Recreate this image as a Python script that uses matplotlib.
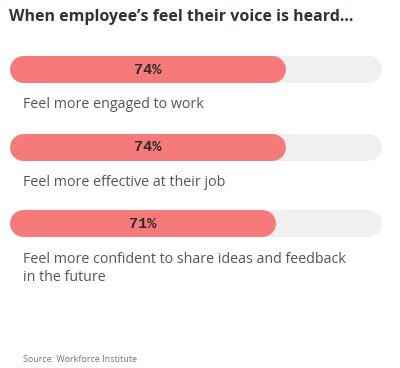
import matplotlib
matplotlib.use("Agg")
import matplotlib.pyplot as plt
from matplotlib import font_manager

# data
title = "When employee\u2019s feel their voice is heard..."
labels = ["Feel more engaged to work",
          "Feel more effective at their job",
          "Feel more confident to share ideas and feedback\nin the future"]
values = [74, 74, 71]
source = "Source: Workforce Institute"

W, H = 400, 368
bar_y = [69, 146.5, 223]        # bar centre, pixels from top
label_y = [102, 180, 257]       # first line centre
bar_px = 27
x0_px, x100_px = 22.5, 360.0

red = "#f77a7b"
track = "#f1f0f0"

mono = [f.name for f in font_manager.fontManager.ttflist if "Mono" in f.name]
mono_family = ["Liberation Mono", "DejaVu Sans Mono"] if "Liberation Mono" in mono else ["DejaVu Sans Mono"]

fig = plt.figure(figsize=(W / 100, H / 100), dpi=100)
ax = fig.add_axes([0, 0, 1, 1])
scale = 100 / (x100_px - x0_px)
ax.set_xlim(-x0_px * scale, 100 + (W - x100_px) * scale)
ax.set_ylim(H, 0)
ax.axis("off")

lw = bar_px * 72 / 100
left = -x0_px * scale
track_end = left + (381 - 13.5) * scale

for v, lab, by, ly in zip(values, labels, bar_y, label_y):
    ax.plot([0, track_end], [by, by], color=track, lw=lw, solid_capstyle="round")
    ax.plot([0, v], [by, by], color=red, lw=lw, solid_capstyle="round")
    ax.text(v / 2, by + 0.5, f"{v}%", ha="center", va="center",
            family=mono_family, fontweight="bold", fontsize=11,
            color="#2b2b2b")
    ax.text(left + 23 * scale, ly - 5, lab, ha="left", va="top", family="Open Sans",
            fontsize=10.3, color="#555555", linespacing=1.3)

ax.text(left + 9 * scale, 17, title, ha="left", va="center",
        family="Open Sans", fontweight="bold", fontsize=11.5, color="#2d3436")
ax.text(left + 23 * scale, 359, source, ha="left", va="center", family="Open Sans",
        fontsize=6.5, color="#777777")

fig.savefig("out.png", dpi=100)
